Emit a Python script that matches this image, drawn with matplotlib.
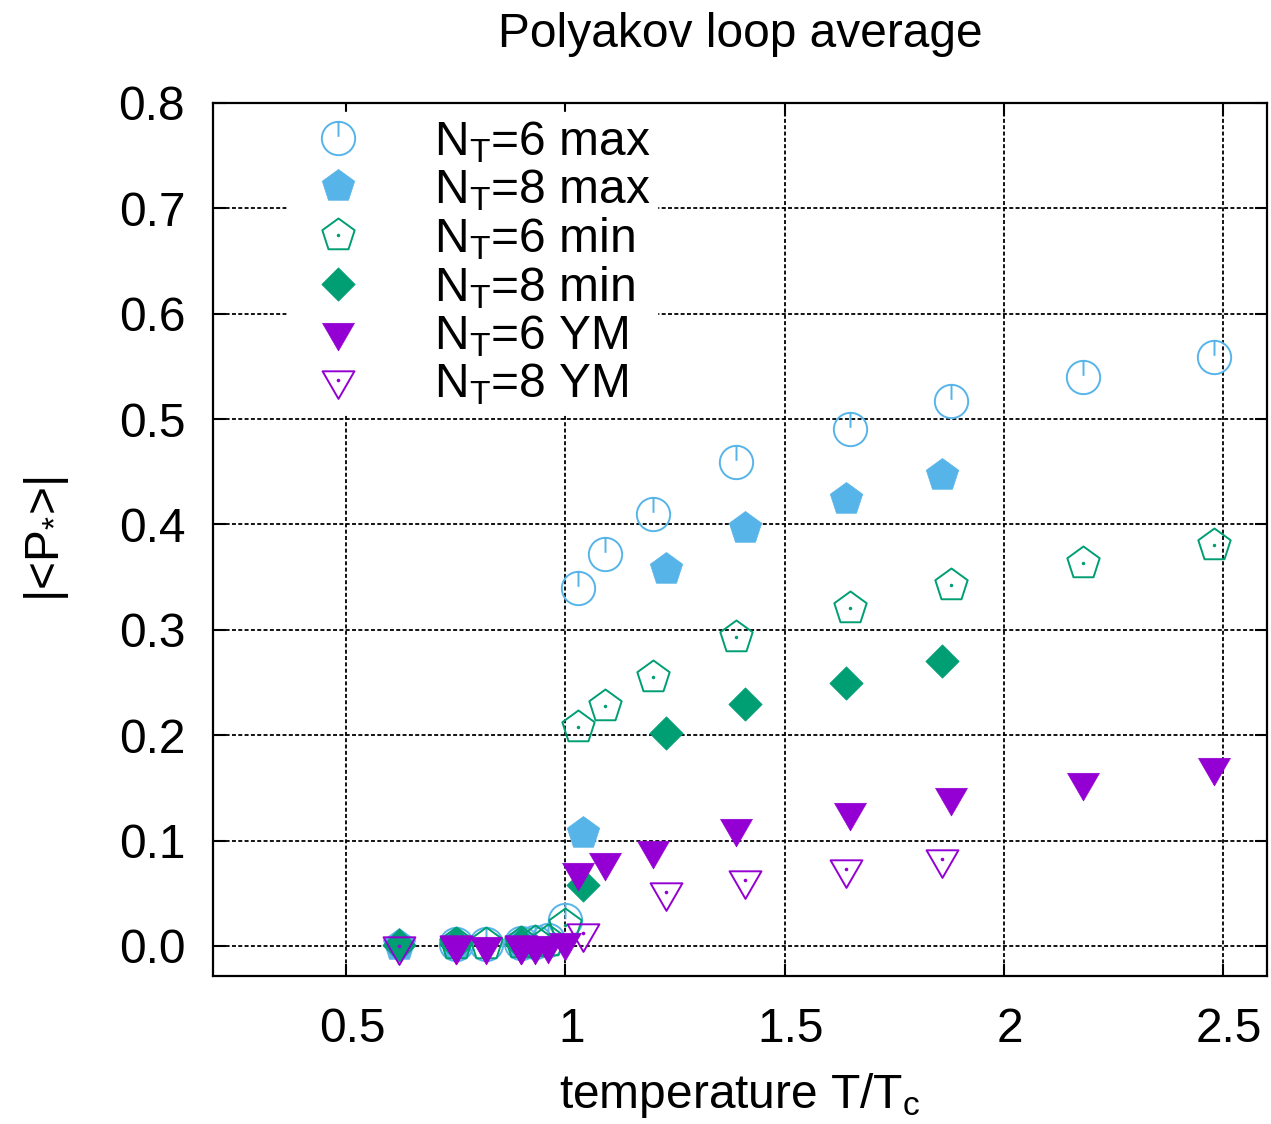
import numpy as np
import matplotlib
matplotlib.use("Agg")
import matplotlib.pyplot as plt
from matplotlib.path import Path
from matplotlib.transforms import ScaledTranslation

# ---------------- data ----------------
T6 = [0.75, 0.82, 0.90, 0.93, 0.96, 1.00, 1.03, 1.09, 1.20, 1.39, 1.65, 1.88, 2.18, 2.48]
T8 = [0.62, 0.75, 0.90, 1.04, 1.23, 1.41, 1.64, 1.86]

p6_max = [0.002, 0.002, 0.003, 0.004, 0.006, 0.025, 0.340, 0.372, 0.410, 0.459, 0.491, 0.517, 0.540, 0.559]
p8_max = [0.001, 0.002, 0.003, 0.107, 0.358, 0.397, 0.424, 0.447]
p6_min = [0.002, 0.002, 0.003, 0.004, 0.005, 0.020, 0.208, 0.228, 0.255, 0.293, 0.321, 0.343, 0.363, 0.381]
p8_min = [0.001, 0.002, 0.002, 0.058, 0.202, 0.230, 0.250, 0.270]
p6_ym = [0.000, 0.000, 0.000, 0.000, 0.001, 0.004, 0.070, 0.080, 0.091, 0.112, 0.127, 0.141, 0.156, 0.170]
p8_ym = [0.000, 0.001, 0.001, 0.012, 0.051, 0.063, 0.073, 0.083]

labels = ["N$_\\mathregular{T}$=6 max", "N$_\\mathregular{T}$=8 max",
          "N$_\\mathregular{T}$=6 min", "N$_\\mathregular{T}$=8 min",
          "N$_\\mathregular{T}$=6 YM", "N$_\\mathregular{T}$=8 YM"]
xtick_vals = [0.5, 1, 1.5, 2, 2.5]
xtick_labels = ["0.5", "1", "1.5", "2", "2.5"]
ytick_vals = [0.0, 0.1, 0.2, 0.3, 0.4, 0.5, 0.6, 0.7, 0.8]
ytick_labels = ["0.0", "0.1", "0.2", "0.3", "0.4", "0.5", "0.6", "0.7", "0.8"]

BLUE = "#56B4E9"
GREEN = "#009E73"
PURPLE = "#9400D3"
FS = 34.5

plt.rcParams['font.family'] = ['Liberation Sans', 'DejaVu Sans']

# ---------------- custom markers ----------------
def small_circle(r=0.045):
    c = Path.unit_circle()
    return Path(c.vertices * r, c.codes)

circ = Path.unit_circle()
circ_line = Path.make_compound_path(circ, Path([[0, 1.0], [0, 0.1]], [Path.MOVETO, Path.LINETO]))

ang = np.deg2rad(90 + 72 * np.arange(5))
pent_v = np.column_stack([np.cos(ang), np.sin(ang)])
pent = Path(np.vstack([pent_v, pent_v[:1]]),
            [Path.MOVETO] + [Path.LINETO] * 4 + [Path.CLOSEPOLY])
pent_dot = Path.make_compound_path(pent, small_circle())

tang = np.deg2rad([270, 30, 150])
tri_v = np.column_stack([np.cos(tang), np.sin(tang)])
tri = Path(np.vstack([tri_v, tri_v[:1]]), [Path.MOVETO, Path.LINETO, Path.LINETO, Path.CLOSEPOLY])
tri_dot = Path.make_compound_path(tri, small_circle())

diam = Path([[1, 0], [0, 1], [-1, 0], [0, -1], [1, 0]],
            [Path.MOVETO, Path.LINETO, Path.LINETO, Path.LINETO, Path.CLOSEPOLY])

# ---------------- figure ----------------
fig = plt.figure(figsize=(12.71, 11.24), dpi=100)
ax = fig.add_axes([213 / 1271, 1 - 976 / 1124, (1267 - 213) / 1271, (976 - 103) / 1124])

mew = 1.4
ax.plot(T6, p6_max, linestyle='none', marker=circ_line, ms=24, mfc='none', mec=BLUE, mew=mew, label=labels[0], zorder=3)
ax.plot(T8, p8_max, linestyle='none', marker=pent, ms=24.5, mfc=BLUE, mec=BLUE, mew=0.5, label=labels[1], zorder=3)
ax.plot(T6, p6_min, linestyle='none', marker=pent_dot, ms=24.5, mfc='none', mec=GREEN, mew=mew, label=labels[2], zorder=3)
ax.plot(T8, p8_min, linestyle='none', marker=diam, ms=24, mfc=GREEN, mec=GREEN, mew=0.5, label=labels[3], zorder=3)
ax.plot(T6, p6_ym, linestyle='none', marker=tri, ms=26.5, mfc=PURPLE, mec=PURPLE, mew=0.5, label=labels[4], zorder=3)
ax.plot(T8, p8_ym, linestyle='none', marker=tri_dot, ms=26.5, mfc='none', mec=PURPLE, mew=mew, label=labels[5], zorder=3)

ax.set_xlim(0.197, 2.6)
ax.set_ylim(-0.0285, 0.8)
ax.set_xticks(xtick_vals)
ax.set_xticklabels(xtick_labels)
ax.set_yticks(ytick_vals)
ax.set_yticklabels(ytick_labels)

ax.grid(True, color='black', linestyle=(0, (2.2, 1.3)), linewidth=1.3, zorder=1)
ax.set_axisbelow(True)
ax.tick_params(axis='both', which='major', direction='in', length=9, width=1.5,
               top=True, right=True, labelsize=FS, colors='black')
ax.tick_params(axis='x', pad=22)
ax.tick_params(axis='y', pad=20)
shift = ScaledTranslation(6 / 100, 0, fig.dpi_scale_trans)
for lab in ax.get_xticklabels():
    lab.set_transform(lab.get_transform() + shift)
for s in ax.spines.values():
    s.set_linewidth(1.6)

ax.set_title("Polyakov loop average", fontsize=FS, pad=40)
ax.set_xlabel("temperature T/T$_\\mathregular{c}$", fontsize=FS, labelpad=14)
ax.set_ylabel("|<P$_\\mathregular{*}$>|", fontsize=FS, labelpad=34)

leg = ax.legend(loc='upper left', bbox_to_anchor=(0.0706, 0.9895), fontsize=FS, numpoints=1,
                frameon=True, fancybox=False, framealpha=1.0, edgecolor='white', facecolor='white',
                handlelength=1.8, handletextpad=1.1, borderpad=0.15, labelspacing=0.045,
                borderaxespad=0.0)
leg.set_zorder(2)

fig.savefig("out.png", dpi=100)
